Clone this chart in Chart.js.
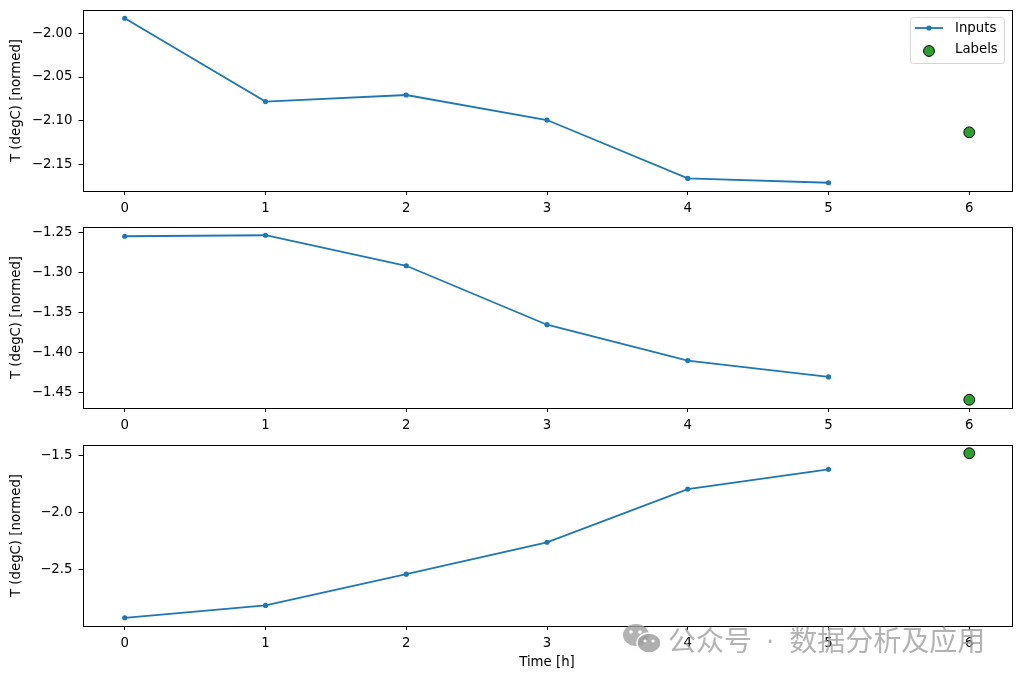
<!DOCTYPE html>
<html>
<head>
<meta charset="utf-8">
<script src="https://cdn.jsdelivr.net/npm/chart.js@4.4.1/dist/chart.umd.min.js"></script>
<style>
  html, body { margin:0; padding:0; background:#fff; }
  body { width:1021px; height:679px; position:relative; overflow:hidden; }
  .wrap { position:absolute; left:0; width:1021px; }
  #watermark { position:absolute; left:668px; top:619px; font-family:"Noto Sans CJK SC", sans-serif; font-size:28px; color:rgba(160,160,160,0.8); white-space:nowrap; line-height:40px; }
  #watermark .dot { font-family:"DejaVu Sans", sans-serif; font-size:26px; margin:0 15px 0 14px; }
  #wicon { position:absolute; left:621px; top:622px; width:42px; height:34px; }
</style>
</head>
<body>
<div class="wrap" style="top:0px;height:218px;"><canvas id="c0" width="1021" height="218"></canvas></div>
<div class="wrap" style="top:217px;height:218px;"><canvas id="c1" width="1021" height="218"></canvas></div>
<div class="wrap" style="top:435px;height:244px;"><canvas id="c2" width="1021" height="244"></canvas></div>
<svg id="wicon" viewBox="0 0 42 34">
  <ellipse cx="15" cy="13" rx="13" ry="11" fill="rgba(160,160,160,0.8)"/>
  <ellipse cx="28" cy="21" rx="12" ry="10" fill="rgba(160,160,160,0.85)" stroke="#fff" stroke-width="1.5"/>
  <circle cx="10" cy="10" r="1.8" fill="#fff"/><circle cx="19" cy="10" r="1.8" fill="#fff"/>
  <circle cx="24" cy="19" r="1.6" fill="#fff"/><circle cx="32" cy="19" r="1.6" fill="#fff"/>
</svg>
<div id="watermark">公众号<span class="dot">·</span>数据分析及应用</div>
<script>
// ---- data ----
const inputTimes = [0, 1, 2, 3, 4, 5];
const labelTime = [6];
const xTicks = [0, 1, 2, 3, 4, 5, 6];

const inputs1 = [-1.983, -2.078, -2.0705, -2.099, -2.1655, -2.1705];
const label1 = [-2.113];
const yTicks1 = [-2.00, -2.05, -2.10, -2.15];

const inputs2 = [-1.2545, -1.2532, -1.2915, -1.3655, -1.4105, -1.4310];
const label2 = [-1.4597];
const yTicks2 = [-1.25, -1.30, -1.35, -1.40, -1.45];

const inputs3 = [-2.9225, -2.814, -2.541, -2.261, -1.795, -1.622];
const label3 = [-1.481];
const yTicks3 = [-1.5, -2.0, -2.5];

const FONT = "'DejaVu Sans', sans-serif";
const BLUE = '#1f77b4';
const GREEN = '#2ca02c';

function pts(xs, ys) { return xs.map((x, i) => ({ x: x, y: ys[i] })); }
function limits(a, b) {
  const all = a.concat(b);
  const mn = Math.min(...all), mx = Math.max(...all);
  const m = (mx - mn) * 0.05;
  return [mn - m, mx + m];
}

const frame = {
  id: 'frame',
  afterDraw(chart) {
    const a = chart.chartArea, ctx = chart.ctx;
    ctx.save();
    ctx.strokeStyle = '#000';
    ctx.lineWidth = 1;
    const l = Math.round(a.left) + 0.5, t = Math.round(a.top) + 0.5;
    const r = Math.round(a.right) + 0.5, b = Math.round(a.bottom) + 0.5;
    ctx.strokeRect(l, t, r - l, b - t);
    ctx.restore();
  }
};

const legendPlugin = {
  id: 'mylegend',
  afterDraw(chart) {
    if (!chart.options.plugins.mylegend || !chart.options.plugins.mylegend.show) return;
    const ctx = chart.ctx;
    ctx.save();
    const x = 910.5, y = 17.5, w = 94, h = 46, r = 3;
    ctx.beginPath();
    ctx.moveTo(x + r, y); ctx.lineTo(x + w - r, y); ctx.quadraticCurveTo(x + w, y, x + w, y + r);
    ctx.lineTo(x + w, y + h - r); ctx.quadraticCurveTo(x + w, y + h, x + w - r, y + h);
    ctx.lineTo(x + r, y + h); ctx.quadraticCurveTo(x, y + h, x, y + h - r);
    ctx.lineTo(x, y + r); ctx.quadraticCurveTo(x, y, x + r, y);
    ctx.closePath();
    ctx.fillStyle = 'rgba(255,255,255,0.8)';
    ctx.fill();
    ctx.strokeStyle = '#d6d6d6';
    ctx.lineWidth = 1;
    ctx.stroke();
    ctx.strokeStyle = BLUE; ctx.lineWidth = 1.8;
    ctx.beginPath(); ctx.moveTo(915, 28); ctx.lineTo(943, 28); ctx.stroke();
    ctx.fillStyle = BLUE;
    ctx.beginPath(); ctx.arc(929, 28, 2.6, 0, Math.PI * 2); ctx.fill();
    ctx.fillStyle = GREEN; ctx.strokeStyle = '#000'; ctx.lineWidth = 1;
    ctx.beginPath(); ctx.arc(929, 51, 5.4, 0, Math.PI * 2); ctx.fill(); ctx.stroke();
    ctx.fillStyle = '#000';
    ctx.font = '13.3px ' + FONT;
    ctx.textBaseline = 'middle';
    ctx.fillText('Inputs', 955, 28.5);
    ctx.fillText('Labels', 955, 50);
    ctx.restore();
  }
};

function makeChart(id, inputs, label, yTicks, xAxisH, showLegend, showXTitle, decimals) {
  const lim = limits(inputs, label);
  return new Chart(document.getElementById(id), {
    type: 'line',
    data: {
      datasets: [
        {
          label: 'Inputs',
          data: pts(inputTimes, inputs),
          borderColor: BLUE,
          backgroundColor: BLUE,
          borderWidth: 1.8,
          pointRadius: 2.6,
          pointHoverRadius: 2.6,
          pointBorderWidth: 0,
          tension: 0,
          fill: false
        },
        {
          label: 'Labels',
          data: pts(labelTime, label),
          showLine: false,
          backgroundColor: GREEN,
          borderColor: '#000',
          pointBorderColor: '#000',
          pointBackgroundColor: GREEN,
          pointRadius: 5.4,
          pointBorderWidth: 1,
          pointHoverRadius: 5.4
        }
      ]
    },
    options: {
      responsive: false,
      animation: false,
      events: [],
      layout: { padding: { top: 10, left: 0, right: 9.5, bottom: 0 } },
      plugins: {
        legend: { display: false },
        tooltip: { enabled: false },
        mylegend: { show: showLegend }
      },
      scales: {
        x: {
          type: 'linear',
          min: -0.3, max: 6.3,
          afterBuildTicks: (s) => { s.ticks = xTicks.map(v => ({ value: v })); },
          afterFit: (s) => { s.height = xAxisH; s.paddingLeft = 0; s.paddingRight = 0; },
          grid: { drawOnChartArea: false, drawTicks: true, tickLength: 4, color: '#000', tickWidth: 1 },
          border: { display: false },
          ticks: { color: '#000', font: { family: FONT, size: 13.3 }, padding: 6, maxRotation: 0, callback: (v) => String(v) },
          title: { display: showXTitle, text: 'Time [h]', color: '#000', font: { family: FONT, size: 13.3 }, padding: { top: 0, bottom: 8 } }
        },
        y: {
          type: 'linear',
          min: lim[0], max: lim[1],
          afterBuildTicks: (s) => { s.ticks = yTicks.map(v => ({ value: v })); },
          afterFit: (s) => { s.width = 82.5; s.paddingTop = 0; s.paddingBottom = 0; },
          grid: { drawOnChartArea: false, drawTicks: true, tickLength: 4, color: '#000', tickWidth: 1 },
          border: { display: false },
          ticks: {
            color: '#000', font: { family: FONT, size: 13.3 }, padding: 6,
            callback: (v) => (v < 0 ? '\u2212' : '') + Math.abs(v).toFixed(decimals)
          },
          title: { display: true, text: 'T (degC) [normed]', color: '#000', font: { family: FONT, size: 13.3 }, padding: { top: 9, bottom: 0 } }
        }
      }
    },
    plugins: [frame, legendPlugin]
  });
}

makeChart('c0', inputs1, label1, yTicks1, 27, true, false, 2);
makeChart('c1', inputs2, label2, yTicks2, 27, false, false, 2);
makeChart('c2', inputs3, label3, yTicks3, 53, false, true, 1);
</script>
</body>
</html>
